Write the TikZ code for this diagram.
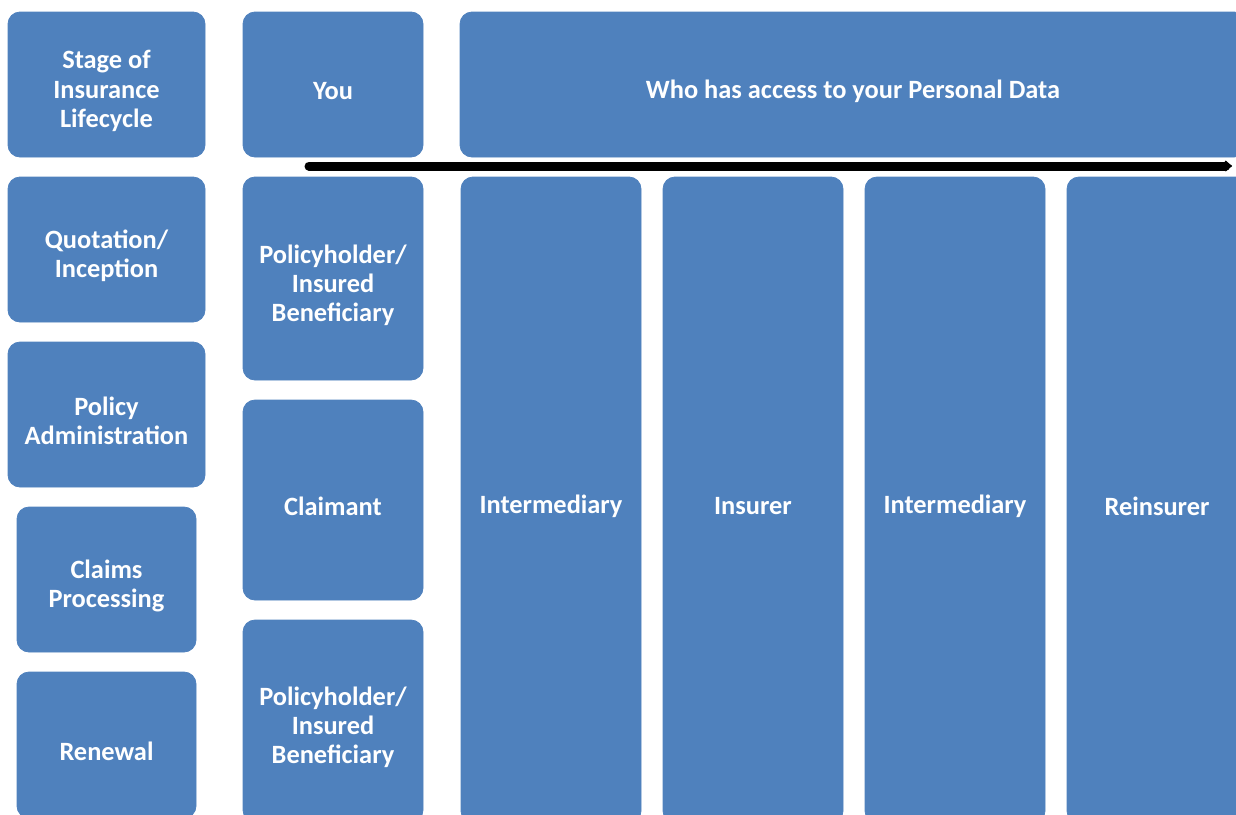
\documentclass[tikz,border=0pt]{standalone}
\usepackage{fontspec}
\setmainfont{Carlito}
\usetikzlibrary{arrows.meta}
\definecolor{boxblue}{HTML}{4F81BD}
\begin{document}
\begin{tikzpicture}[x=0.5pt,y=-0.5pt,
  box/.style={fill=boxblue, draw=boxblue, line width=0.4pt, rounded corners=6pt,
    inner sep=0pt, outer sep=0pt},
  txt/.style={text=white, font=\bfseries\fontsize{13.2}{14.5}\selectfont, align=center,
    inner sep=0pt},
  flow/.style={line width=4.5pt, line cap=round, -{Latex[length=4pt,width=7pt,round]}}]
\useasboundingbox (0,0) rectangle (1236,814);
\clip (0,0) rectangle (1236,814);
% helper: box from (x1,y1) to (x2,y2) with its text
\newcommand{\pbox}[6]{%
  \node[box, minimum width={(#4-#2)*0.5pt}, minimum height={(#5-#3)*0.5pt}] (#1) at ({(#2+#4)/2},{(#3+#5)/2}) {};
  \node[txt] (#1-t) at ([yshift=-3.2pt]#1.center) {#6};}
% column 1
\pbox{stage}{8}{12}{205}{157}{Stage of\\Insurance\\Lifecycle}
\pbox{quote}{8}{177}{205}{322}{Quotation/\\Inception}
\pbox{admin}{8}{342}{205}{487}{Policy\\Administration}
\pbox{claims}{17}{507}{196}{652}{Claims\\Processing}
\pbox{renew}{17}{672}{196}{818}{Renewal}
% column 2
\pbox{you}{243}{12}{423}{157}{You}
\pbox{ph1}{243}{177}{423}{380}{Policyholder/\\Insured\\Beneficiary}
\pbox{claimant}{243}{400}{423}{600}{Claimant}
\pbox{ph2}{243}{620}{423}{822}{Policyholder/\\Insured\\Beneficiary}
% top right
\pbox{who}{460}{12}{1246}{157}{Who has access to your Personal Data}
% columns
\pbox{inter1}{461}{177}{641}{823}{Intermediary}
\pbox{insurer}{663}{177}{843}{823}{Insurer}
\pbox{inter2}{865}{177}{1045}{823}{Intermediary}
\pbox{reins}{1067}{177}{1247}{823}{Reinsurer}
% arrow
\coordinate (a1) at (309,166);
\coordinate (a2) at (1232,166);
\draw[flow] (a1) -- (a2);
\end{tikzpicture}
\end{document}
